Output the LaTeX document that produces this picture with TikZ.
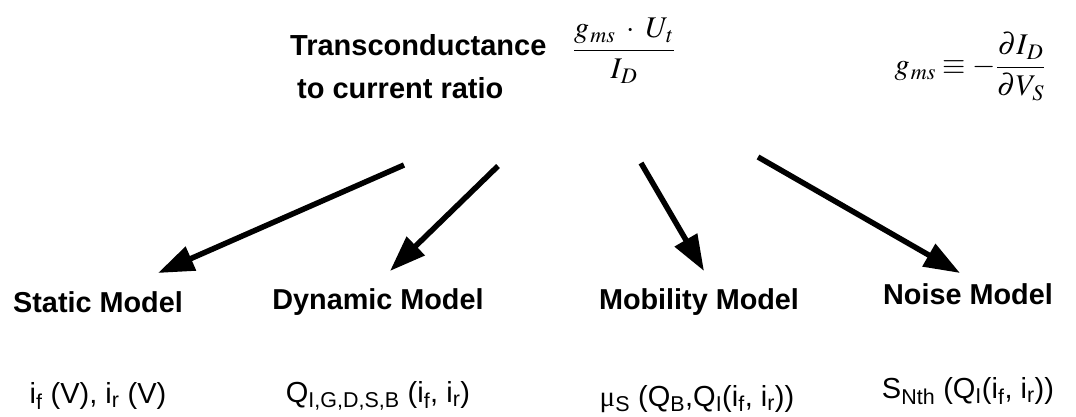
\documentclass[tikz,border=0pt]{standalone}
\usepackage{amsmath}
\usepackage{mathptmx}
\usepackage{fontspec}
\setmainfont{Liberation Sans}
\newfontfamily\symserif{Liberation Serif}
\usetikzlibrary{arrows.meta}
\tikzset{
  ttl/.style   = {font=\fontsize{29}{43}\selectfont\bfseries, align=left, inner sep=0pt},
  model/.style = {font=\fontsize{28.8}{32}\selectfont\bfseries, inner sep=0pt},
  dep/.style   = {font=\fontsize{29}{32}\selectfont, inner sep=0pt},
  eq/.style    = {font=\fontsize{30}{36}\selectfont, inner sep=0pt, anchor=base},
  feed/.style  = {line width=5.5pt, -{Triangle[length=36pt, width=25pt]}},
}

\begin{document}
\begin{tikzpicture}[x=1pt, y=-1pt]
  \useasboundingbox (0,0) rectangle (1076,417);
  % header
  \node[ttl, anchor=west] (ratio) at (290,67) {Transconductance\\\hspace*{7pt}to current ratio};
  \node[eq] (gmratio) at (624,58) {$\dfrac{g_{\mkern1mu ms}\;\cdot\;U_{\mkern1mu t}}{I_{\mkern1mu D}}$};
  \node[eq] (gmdef) at (970,75) {$g_{\mkern1mu ms}\equiv-\dfrac{\partial I_{\mkern1mu D}}{\partial V_{\mkern1mu S}}$};
  % models
  \node[model] (static) at (98,302) {Static Model};
  \node[model] (dynamic) at (378,302) {Dynamic Model};
  \node[model] (mobility) at (699,302) {Mobility Model};
  \node[model] (noise) at (968,294) {Noise Model};
  \node[dep] (staticdep) at (98,396) {i\textsubscript{f} (V), i\textsubscript{r} (V)};
  \node[dep] (dynamicdep) at (378,396) {Q\textsubscript{I,G,D,S,B} (i\textsubscript{f}, i\textsubscript{r})};
  \node[dep] (mobilitydep) at (697,399) {{\symserif μ}\textsubscript{S} (Q\textsubscript{B},Q\textsubscript{I}(i\textsubscript{f}, i\textsubscript{r}))};
  \node[dep] (noisedep) at (968,391) {S\textsubscript{Nth} (Q\textsubscript{I}(i\textsubscript{f}, i\textsubscript{r}))};
  % arrows
  \coordinate (from1) at (404,165);
  \coordinate (from2) at (498,166);
  \coordinate (from3) at (641,163);
  \coordinate (from4) at (758,157);
  \coordinate (to1) at (158,273);
  \coordinate (to2) at (390,271);
  \coordinate (to3) at (704,271);
  \coordinate (to4) at (960,273);
  \draw[feed] (from1) -- (to1);
  \draw[feed] (from2) -- (to2);
  \draw[feed] (from3) -- (to3);
  \draw[feed] (from4) -- (to4);
\end{tikzpicture}
\end{document}
